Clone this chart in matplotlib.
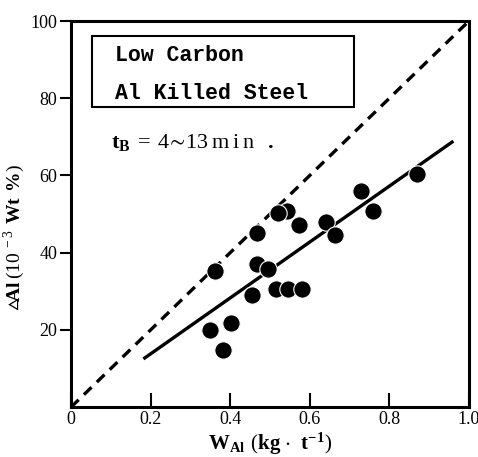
import matplotlib
matplotlib.use("Agg")
from matplotlib import pyplot as plt
from matplotlib.patches import Rectangle

# measured points
w_al = [0.363, 0.349, 0.383, 0.401, 0.456, 0.468, 0.468, 0.494, 0.515, 0.545,
        0.581, 0.544, 0.521, 0.572, 0.640, 0.663, 0.729, 0.760, 0.870]
d_al = [35.3, 19.9, 14.9, 21.8, 29.0, 45.2, 37.2, 35.9, 30.7, 30.7,
        30.7, 50.8, 50.3, 47.1, 48.0, 44.5, 56.0, 50.7, 60.5]

# regression line and 1:1 line
fit_x = [0.182, 0.961]
fit_y = [12.5, 68.9]
ref_x = [0.0, 1.0]
ref_y = [0.0, 100.0]

xticks = [0, 0.2, 0.4, 0.6, 0.8, 1.0]
xtick_labels = ["0", "0.2", "0.4", "0.6", "0.8", "1.0"]
yticks = [20, 40, 60, 80, 100]

plt.rcParams['font.family'] = ['Liberation Serif', 'DejaVu Serif']
plt.rcParams['mathtext.fontset'] = 'custom'
plt.rcParams['mathtext.rm'] = 'Liberation Serif'
plt.rcParams['mathtext.bf'] = 'Liberation Serif:bold'
plt.rcParams['mathtext.fallback'] = 'stix'

fig = plt.figure(figsize=(4.78, 4.57), dpi=100)
ax = fig.add_axes([0.1485, 0.109, 0.8325, 0.845])

ax.plot(ref_x, ref_y, color='black', lw=2.4, ls=(0, (3.2, 2.2)))
ax.plot(fit_x, fit_y, color='black', lw=2.4, solid_capstyle='butt')
ax.plot(w_al, d_al, 'o', color='black', ms=12.5, mec='white', mew=0.8)

ax.set_xlim(0, 1.0)
ax.set_ylim(0, 100)
ax.set_xticks(xticks)
ax.set_xticklabels(xtick_labels)
ax.set_yticks(yticks)
ax.tick_params(axis='x', direction='in', length=10, width=1.5, labelsize=13, pad=3)
ax.tick_params(axis='y', direction='out', length=8, width=1.5, labelsize=13, pad=2)
for s in ax.spines.values():
    s.set_linewidth(2.2)

ax.add_patch(Rectangle((0.053, 0.777), 0.658, 0.184, transform=ax.transAxes,
                       fill=False, lw=1.5, ec='black'))
ax.text(0.11, 0.91, "Low Carbon", transform=ax.transAxes, family='Liberation Mono',
        fontsize=15.5, fontweight='bold', va='center')
ax.text(0.11, 0.812, "Al Killed Steel", transform=ax.transAxes, family='Liberation Mono',
        fontsize=15.5, fontweight='bold', va='center')
ax.text(0.10, 0.685, r"$\mathbf{t_B}\,=\,4\!\sim\!13\,\mathrm{m\,i\,n}\ \ \mathbf{.}$",
        transform=ax.transAxes, fontsize=16, va='center')

ax.set_ylabel(r"$\vartriangle\!\mathbf{Al}\,(10^{\,-3}\ \mathbf{W t\ \%})$", fontsize=14)
ax.yaxis.set_label_coords(-0.11, 0.44)
ax.set_xlabel(r"$\mathbf{W_{Al}}\ (\mathbf{kg}\cdot\ \mathbf{t^{-1}})$", fontsize=15, labelpad=2)

fig.savefig("out.png", dpi=100)
